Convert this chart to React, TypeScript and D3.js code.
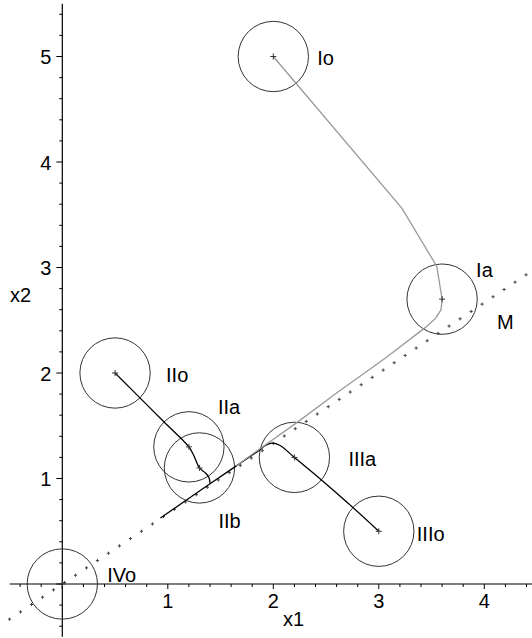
import React from "react";
import * as d3 from "d3";

// ---- data ----
const pointLabels = ["Io", "Ia", "IIo", "IIa", "IIb", "IIIa", "IIIo", "IVo"];
const pointX = [2, 3.6, 0.5, 1.2, 1.3, 2.2, 3, 0];
const pointY = [5, 2.7, 2, 1.3, 1.1, 1.2, 0.5, 0];
const circleRadius = 1 / 3;

// trajectory I (gray)
const trajI: [number, number][] = [
  [2, 5], [3.22, 3.56], [3.55, 3.01], [3.6, 2.7], [3.59, 2.6], [3.54, 2.52],
  [3.44, 2.43], [3.06, 2.14], [2.6, 1.81], [2.21, 1.52], [1.87, 1.28], [1.65, 1.12],
];
// trajectory II (black)
const trajII: [number, number][] = [
  [0.5, 2], [0.96, 1.54], [1.2, 1.3], [1.25, 1.21], [1.3, 1.1], [1.36, 1.05],
  [1.39, 1.01], [1.4, 0.955],
];
// trajectory III (black)
const trajIII: [number, number][] = [
  [3, 0.5], [2.76, 0.72], [2.44, 1.0], [2.2, 1.2], [2.06, 1.315], [1.985, 1.335],
  [1.92, 1.31], [1.87, 1.27], [1.65, 1.12], [1.4, 0.95], [0.93, 0.625],
];
// line M endpoints
const lineM: [number, number][] = [[-0.5, -1 / 3], [4.5, 3]];
const lineMLabel = { text: "M", x: 4.12, y: 2.42 };

const xTickLabels = [1, 2, 3, 4];
const yTickLabels = [1, 2, 3, 4, 5];
const xAxisTitle = "x1";
const yAxisTitle = "x2";

// label offsets (pixels) relative to point centre
const labelDX = [44, 34, 51, 29, 19, 54, 38, 45];
const labelDY = [8, -22, 9, -33, 60, 9, 10, -2];

const W = 532;
const H = 638;
const FONT = "'Liberation Sans', Arial, Helvetica, sans-serif";

export default function App() {
  const x = d3.scaleLinear().domain([0, 4]).range([62.3, 62.3 + 4 * 105.5]);
  const y = d3.scaleLinear().domain([0, 5]).range([584, 584 - 5 * 105.5]);

  const line = d3
    .line<[number, number]>()
    .x((d) => x(d[0]))
    .y((d) => y(d[1]));
  const smooth = d3
    .line<[number, number]>()
    .x((d) => x(d[0]))
    .y((d) => y(d[1]))
    .curve(d3.curveCatmullRom.alpha(0.5));

  const minorX = d3.range(-2, 23).map((k) => k * 0.2);
  const minorY = d3.range(-2, 28).map((k) => k * 0.2);

  // dotted markers along M
  const nM = 48;
  const mPts = d3.range(0, nM + 1).map((k) => {
    const t = k / nM;
    return [
      lineM[0][0] + t * (lineM[1][0] - lineM[0][0]),
      lineM[0][1] + t * (lineM[1][1] - lineM[0][1]),
    ];
  });

  const cross = (cx: number, cy: number, s: number, key: string, color: string, sw = 1) => (
    <g key={key} stroke={color} strokeWidth={sw}>
      <line x1={cx - s} x2={cx + s} y1={cy} y2={cy} />
      <line x1={cx} x2={cx} y1={cy - s} y2={cy + s} />
    </g>
  );

  return (
    <svg
      width={W}
      height={H}
      style={{ position: "absolute", left: 0, top: 0, background: "#fff" }}
      fontFamily={FONT}
    >
      <rect width={W} height={H} fill="#fff" />
      {/* axes */}
      <line x1={x(-0.5)} x2={x(4.5)} y1={y(0)} y2={y(0)} stroke="#000" strokeWidth={1.2} />
      <line x1={x(0)} x2={x(0)} y1={y(-0.5)} y2={y(5.5)} stroke="#000" strokeWidth={1.2} />
      {minorX.map((v, i) => {
        const major = Math.abs(v - Math.round(v)) < 1e-6;
        return (
          <line
            key={"tx" + i}
            x1={x(v)}
            x2={x(v)}
            y1={y(0)}
            y2={y(0) + (major ? 5 : 3)}
            stroke="#000"
            strokeWidth={1}
          />
        );
      })}
      {minorY.map((v, i) => {
        const major = Math.abs(v - Math.round(v)) < 1e-6;
        return (
          <line
            key={"ty" + i}
            x1={x(0) - (major ? 6 : 3)}
            x2={x(0)}
            y1={y(v)}
            y2={y(v)}
            stroke="#000"
            strokeWidth={1}
          />
        );
      })}
      {xTickLabels.map((v) => (
        <text key={"xl" + v} x={x(v)} y={y(0) + 24} fontSize={20} textAnchor="middle" fill="#000">
          {v}
        </text>
      ))}
      {yTickLabels.map((v) => (
        <text key={"yl" + v} x={x(0) - 11} y={y(v) + 7.5} fontSize={20} textAnchor="end" fill="#000">
          {v}
        </text>
      ))}
      <text x={283} y={626} fontSize={20} fill="#000">{xAxisTitle}</text>
      <text x={10} y={302} fontSize={20} fill="#000">{yAxisTitle}</text>

      {/* line M */}
      {mPts.map((p, i) => cross(x(p[0]), y(p[1]), 1.6, "m" + i, "#444", 1))}
      <text x={x(lineMLabel.x)} y={y(lineMLabel.y)} fontSize={20} fill="#000">
        {lineMLabel.text}
      </text>

      {/* circles */}
      {pointX.map((px, i) => (
        <ellipse
          key={"c" + i}
          cx={x(px)}
          cy={y(pointY[i])}
          rx={x(circleRadius) - x(0)}
          ry={y(0) - y(circleRadius)}
          fill="none"
          stroke="#333"
          strokeWidth={1}
        />
      ))}

      {/* trajectories */}
      <path d={smooth(trajIII) || ""} fill="none" stroke="#000" strokeWidth={1.3} />
      <path d={smooth(trajII) || ""} fill="none" stroke="#000" strokeWidth={1.3} />
      <path d={line(trajI) || ""} fill="none" stroke="#999" strokeWidth={1.3} />

      {/* centre markers */}
      {pointX.map((px, i) => cross(x(px), y(pointY[i]), 3, "p" + i, "#333", 1))}

      {/* labels */}
      {pointLabels.map((l, i) => (
        <text
          key={"l" + i}
          x={x(pointX[i]) + labelDX[i]}
          y={y(pointY[i]) + labelDY[i]}
          fontSize={20}
          fill="#000"
        >
          {l}
        </text>
      ))}
    </svg>
  );
}
